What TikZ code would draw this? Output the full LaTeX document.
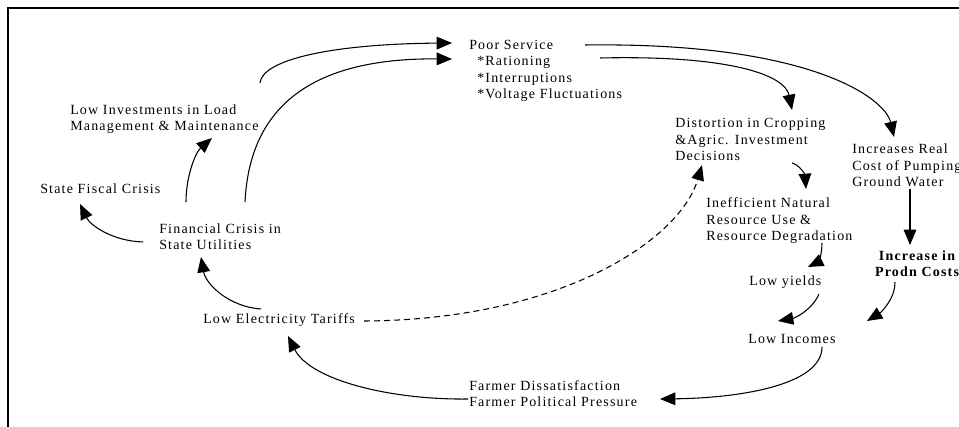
\documentclass[tikz,border=0pt]{standalone}
\usepackage{fontspec}
\setmainfont{Liberation Serif}[LetterSpace=8.5]
\usetikzlibrary{arrows.meta}
\begin{document}
\begin{tikzpicture}[x=0.75pt,y=-0.75pt,
  lbl/.style={anchor=base west, inner sep=0pt, align=left, font=\fontsize{10.5pt}{12.3pt}\selectfont},
  blbl/.style={anchor=base, inner sep=0pt, align=center, font=\fontsize{10.5pt}{12.3pt}\selectfont\bfseries},
  conn/.style={line width=0.8pt, -{Triangle[length=11.5pt,width=9.5pt]}},
  dconn/.style={conn, dash pattern=on 4.5pt off 3pt}]
\useasboundingbox (0,0) rectangle (959,427);
\clip (0,0) rectangle (959,427);
\draw[line width=1.4pt] (8,8) rectangle (995,465);

% nodes (anchored at the baseline of their last line)
\node[lbl] (poor) at (469,98.5) {Poor Service\\\hspace*{6pt}*Rationing\\\hspace*{6pt}*Interruptions\\\hspace*{6pt}*Voltage Fluctuations};
\node[lbl] (inv) at (70,130.5) {Low Investments in Load\\Management \& Maintenance};
\node[lbl] (fiscal) at (40,194) {State Fiscal Crisis};
\node[lbl] (fin) at (159,250) {Financial Crisis in\\State Utilities};
\node[lbl] (tariff) at (203,324) {Low Electricity Tariffs};
\node[lbl] (farmer) at (469,406.5) {Farmer Dissatisfaction\\Farmer Political Pressure};
\node[lbl] (incomes) at (748,344) {Low Incomes};
\node[lbl] (yields) at (749,286) {Low yields};
\node[lbl] (ineff) at (706,240.5) {Inefficient Natural\\Resource Use \&\\Resource Degradation};
\node[lbl] (dist) at (675,160.5) {Distortion in Cropping\\\&Agric. Investment\\Decisions};
\node[lbl] (pump) at (852,186.5) {Increases Real\\Cost of Pumping\\Ground Water};
\node[blbl] (prodn) at (917,276.5) {Increase in\\Prodn Costs};

% connector end points
\coordinate (inv-out) at (260,83);
\coordinate (poor-in1) at (452,43);
\coordinate (fin-out1) at (245,202);
\coordinate (poor-in2) at (452,59);
\coordinate (fin-out2) at (186,202);
\coordinate (inv-in) at (212,138);
\coordinate (fin-out3) at (143,242);
\coordinate (fiscal-in) at (80,204);
\coordinate (tariff-out1) at (261,309);
\coordinate (fin-in) at (201,257);
\coordinate (farmer-out) at (468,399);
\coordinate (tariff-in) at (288,336);
\coordinate (incomes-out) at (822,347);
\coordinate (farmer-in) at (660,399);
\coordinate (yields-out) at (819,294);
\coordinate (incomes-in1) at (778,321);
\coordinate (prodn-out) at (895,282);
\coordinate (incomes-in2) at (867,321);
\coordinate (ineff-out) at (822,243);
\coordinate (yields-in) at (808,267);
\coordinate (pump-out) at (910,189);
\coordinate (prodn-in) at (910,245);
\coordinate (dist-out) at (792,163);
\coordinate (ineff-in) at (806,189);
\coordinate (poor-out1) at (600,58);
\coordinate (dist-in1) at (792,110);
\coordinate (poor-out2) at (585,45);
\coordinate (pump-in) at (894,137);
\coordinate (tariff-out2) at (364,321);
\coordinate (dist-in2) at (702,165);

% connectors
\draw[conn] (inv-out) .. controls (262,60) and (330,44) .. (poor-in1);
\draw[conn] (fin-out1) .. controls (250,100) and (320,58) .. (poor-in2);
\draw[conn] (fin-out2) .. controls (186,175) and (196,152) .. (inv-in);
\draw[conn] (fin-out3) .. controls (112,241) and (90,225) .. (fiscal-in);
\draw[conn] (tariff-out1) .. controls (230,307) and (206,285) .. (fin-in);
\draw[conn] (farmer-out) .. controls (390,400) and (310,380) .. (tariff-in);
\draw[conn] (incomes-out) .. controls (822,385) and (740,398) .. (farmer-in);
\draw[conn] (yields-out) .. controls (812,310) and (795,318) .. (incomes-in1);
\draw[conn] (prodn-out) .. controls (895,300) and (880,313) .. (incomes-in2);
\draw[conn] (ineff-out) .. controls (822,255) and (818,262) .. (yields-in);
\draw[conn] (pump-out) -- (prodn-in);
\draw[conn] (dist-out) .. controls (800,165) and (805,175) .. (ineff-in);
\draw[conn] (poor-out1) .. controls (730,55) and (785,75) .. (dist-in1);
\draw[conn] (poor-out2) .. controls (810,42) and (885,98) .. (pump-in);
\draw[dconn] (tariff-out2) .. controls (560,320) and (680,240) .. (dist-in2);
\end{tikzpicture}
\end{document}
